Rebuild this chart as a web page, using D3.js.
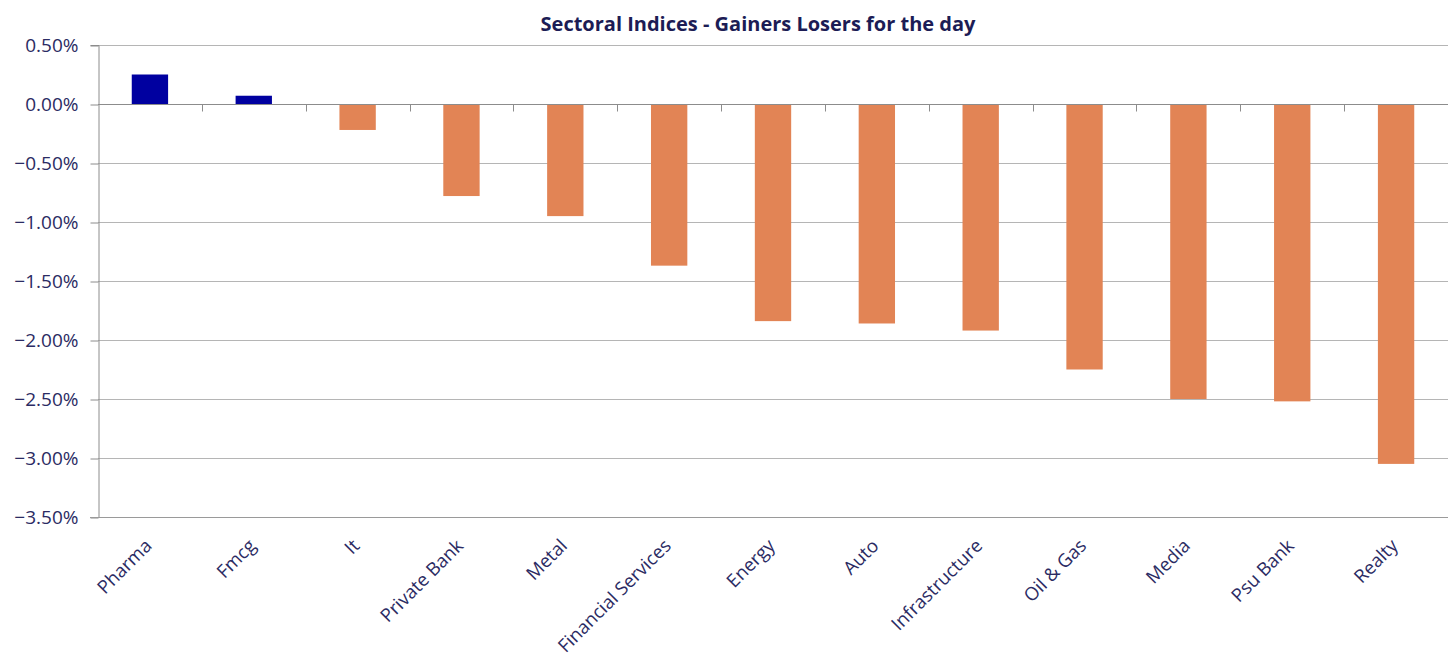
<!DOCTYPE html>
<html>
<head>
<meta charset="utf-8">
<script src="https://cdn.jsdelivr.net/npm/d3@7"></script>
<style>
  body { margin: 0; background: #fff; }
  svg { display: block; }
</style>
</head>
<body>
<div id="chart" style="width:1455px;height:659px"></div>
<script>
// sector names and day change in percent
const sectors = ["Pharma", "Fmcg", "It", "Private Bank", "Metal", "Financial Services",
  "Energy", "Auto", "Infrastructure", "Oil & Gas", "Media", "Psu Bank", "Realty"];
const changes = [0.25, 0.07, -0.22, -0.78, -0.95, -1.37, -1.84, -1.86, -1.92, -2.25, -2.50, -2.52, -3.05];
const yTicks = [0.5, 0, -0.5, -1, -1.5, -2, -2.5, -3, -3.5];

let width = 1455, height = 659;
let margin = { top: 45, right: 7, bottom: 142, left: 98 };
let textColor = "#2b2b63";
let font = "'Open Sans', 'DejaVu Sans', sans-serif";

let svg = d3.select("#chart").append("svg")
  .attr("width", width)
  .attr("height", height);

let x = d3.scaleBand()
  .domain(sectors)
  .range([margin.left, width - margin.right])
  .paddingInner(0.65)
  .paddingOuter(0.325);

let y = d3.scaleLinear()
  .domain([-3.5, 0.5])
  .range([height - margin.bottom, margin.top]);

// title
svg.append("text")
  .attr("x", 758)
  .attr("y", 31)
  .attr("text-anchor", "middle")
  .attr("fill", "#1c1c55")
  .attr("style", "font: bold 20px " + font)
  .text("Sectoral Indices - Gainers Losers for the day");

// horizontal gridlines
svg.append("g").selectAll("line")
  .data(yTicks.filter(d => d != 0 && d != -3.5)).enter().append("line")
  .attr("x1", margin.left)
  .attr("x2", width - margin.right)
  .attr("y1", d => Math.round(y(d)) + 0.5)
  .attr("y2", d => Math.round(y(d)) + 0.5)
  .attr("stroke", "#b5b5b5")
  .attr("stroke-width", 1);

// bars
svg.append("g").selectAll("rect")
  .data(sectors).enter().append("rect")
  .attr("x", d => x(d))
  .attr("width", x.bandwidth())
  .attr("y", (d, i) => y(Math.max(0, changes[i])))
  .attr("height", (d, i) => Math.abs(y(changes[i]) - y(0)))
  .attr("fill", (d, i) => changes[i] >= 0 ? "#0000a0" : "#e28455");

// y axis
let yAxis = d3.axisLeft(y)
  .tickValues(yTicks)
  .tickSize(8)
  .tickPadding(12)
  .tickFormat(d => d3.format(".2f")(d) + "%");
let gy = svg.append("g")
  .attr("transform", "translate(" + (margin.left + 0.5) + ",0)")
  .call(yAxis);
gy.select(".domain").attr("stroke", "#8c8c8c");
gy.selectAll(".tick line").attr("stroke", "#8c8c8c")
  .attr("transform", "translate(0,0.5)");
gy.selectAll(".tick text")
  .attr("fill", textColor)
  .attr("style", "font: 19px " + font)
  .attr("dy", "0.36em");

// zero line with category separator ticks
let y0 = Math.round(y(0)) + 0.5;
svg.append("line")
  .attr("x1", margin.left)
  .attr("x2", width - margin.right)
  .attr("y1", y0)
  .attr("y2", y0)
  .attr("stroke", "#8c8c8c")
  .attr("stroke-width", 1.2);
let gap = (x.step() - x.bandwidth()) / 2;
svg.append("g").selectAll("line")
  .data(sectors.slice(1)).enter().append("line")
  .attr("x1", d => Math.round(x(d) - gap) + 0.5)
  .attr("x2", d => Math.round(x(d) - gap) + 0.5)
  .attr("y1", y0)
  .attr("y2", y0 + 7)
  .attr("stroke", "#8c8c8c");

// bottom frame line at -3.5
svg.append("line")
  .attr("x1", margin.left - 8)
  .attr("x2", width - margin.right)
  .attr("y1", Math.round(y(-3.5)) + 0.5)
  .attr("y2", Math.round(y(-3.5)) + 0.5)
  .attr("stroke", "#9a9a9a");

// category labels, rotated
svg.append("g").selectAll("text")
  .data(sectors).enter().append("text")
  .attr("transform", d => "translate(" + (x(d) + x.bandwidth() / 2 + 3) + "," + (height - margin.bottom + 30) + ") rotate(-45)")
  .attr("text-anchor", "end")
  .attr("fill", textColor)
  .attr("style", "font: 18.5px " + font)
  .text(d => d);
</script>
</body>
</html>
